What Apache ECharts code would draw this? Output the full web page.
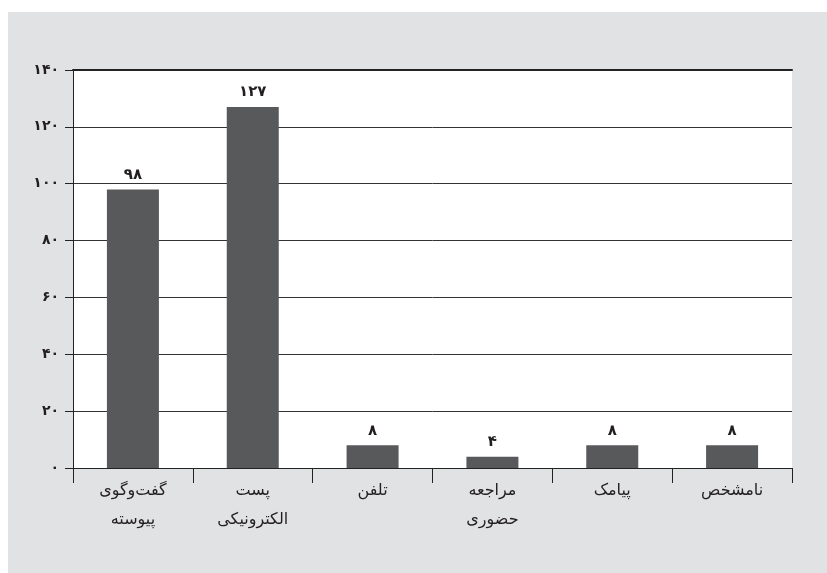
<!DOCTYPE html>
<html>
<head>
<meta charset="utf-8">
<script src="https://cdn.jsdelivr.net/npm/echarts@6/dist/echarts.min.js"></script>
<style>
  html, body { margin: 0; padding: 0; background: #ffffff; }
  #chart { position: absolute; left: 8px; top: 12px; width: 819px; height: 561px; }
</style>
</head>
<body>
<div id="chart"></div>
<script>
// Contact channels and number of cases per channel
const categories = ['گفت‌وگوی\nپیوسته', 'پست\nالکترونیکی', 'تلفن', 'مراجعه\nحضوری', 'پیامک', 'نامشخص'];
const counts = [98, 127, 8, 4, 8, 8];
const yTickLabels = ['۰', '۲۰', '۴۰', '۶۰', '۸۰', '۱۰۰', '۱۲۰', '۱۴۰'];

const persianDigits = ['۰', '۱', '۲', '۳', '۴', '۵', '۶', '۷', '۸', '۹'];
const toPersian = n => String(n).replace(/[0-9]/g, d => persianDigits[+d]);

const FONT = "'DejaVu Sans', 'Noto Sans', sans-serif";
const INK = '#231f20';

const chart = echarts.init(document.getElementById('chart'));
chart.setOption({
  backgroundColor: '#e1e2e3',
  animation: false,
  grid: {
    left: 65, top: 58, right: 35, bottom: 105,
    show: true, backgroundColor: '#ffffff', borderWidth: 0
  },
  xAxis: [{
    type: 'category',
    data: categories,
    axisLine: { show: true, lineStyle: { color: '#222', width: 1 } },
    axisTick: { show: true, length: 15, lineStyle: { color: '#222', width: 1 } },
    axisLabel: {
      fontFamily: FONT, fontSize: 16, color: INK,
      lineHeight: 29, margin: 8, interval: 0
    }
  }, {
    type: 'category',
    position: 'top',
    data: categories,
    axisLine: { show: true, lineStyle: { color: '#222', width: 2 } },
    axisTick: { show: false },
    axisLabel: { show: false }
  }],
  yAxis: {
    type: 'value',
    min: 0, max: 140, interval: 20,
    axisLine: { show: true, lineStyle: { color: '#222', width: 1 } },
    axisTick: { show: true, length: 8, lineStyle: { color: '#222', width: 1 } },
    axisLabel: {
      fontFamily: FONT, fontSize: 14, fontWeight: 'bold', color: INK, margin: 14,
      formatter: v => yTickLabels[Math.round(v / 20)]
    },
    splitLine: { show: true, lineStyle: { color: '#333', width: 1 } }
  },
  series: [{
    type: 'bar',
    data: counts,
    barWidth: 52,
    itemStyle: { color: '#58595b' },
    label: {
      show: true, position: 'top', distance: 7,
      fontFamily: FONT, fontSize: 15, fontWeight: 'bold', color: INK,
      formatter: p => toPersian(p.value)
    }
  }]
});
</script>
</body>
</html>
